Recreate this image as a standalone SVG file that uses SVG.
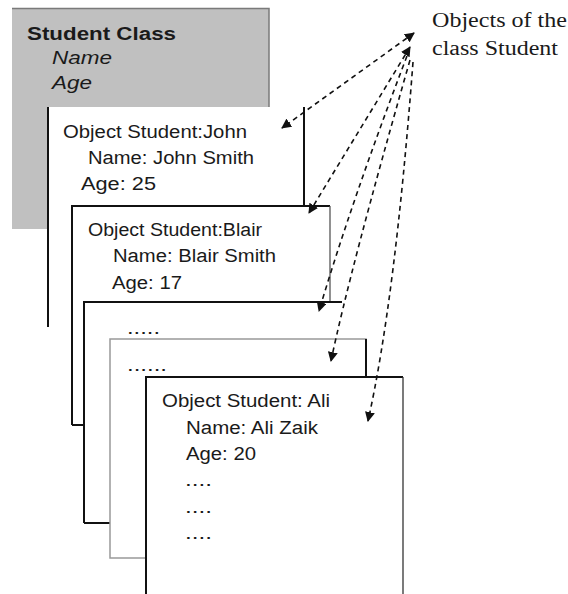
<svg xmlns="http://www.w3.org/2000/svg" width="568" height="594" viewBox="0 0 568 594">
<style>
.t{font-family:"Liberation Sans",Arial,sans-serif;font-size:18px;fill:#1a1a1a}
.b{font-weight:bold}
.i{font-style:italic}
.s{font-family:"Liberation Serif","Times New Roman",serif;font-size:20px;fill:#1a1a1a}
.e{stroke:#111;stroke-width:2;fill:none}
.g{stroke:#999;stroke-width:1.5;fill:none}
.c{stroke:#111;stroke-width:1.6;fill:none;stroke-dasharray:5 4}
</style>
<defs>
<marker id="ah" viewBox="0 0 10 10" refX="9" refY="5" markerWidth="10" markerHeight="10" markerUnits="userSpaceOnUse" orient="auto-start-reverse">
<path d="M0,0 L10,5 L0,10 z" fill="#111"/>
</marker>
</defs>
<rect width="568" height="594" fill="#fff"/>
<g id="student-class">
<rect x="12" y="8" width="257" height="221" fill="#c0c0c0"/>
<path d="M12,8.5 H269 V229" stroke="#7a7a7a" stroke-width="1.5" fill="none"/>
<text class="t b" x="27" y="40" font-size="20" textLength="149" lengthAdjust="spacingAndGlyphs">Student Class</text>
<text class="t i" x="52" y="64" textLength="60" lengthAdjust="spacingAndGlyphs">Name</text>
<text class="t i" x="52" y="89" textLength="40" lengthAdjust="spacingAndGlyphs">Age</text>
</g>
<g id="object-john">
<rect x="48" y="107" width="256" height="220" fill="#fff"/>
<path class="e" d="M48,107 V327"/>
<path class="e" d="M304,107 V206"/>
<text class="t" x="63" y="138" textLength="184" lengthAdjust="spacingAndGlyphs">Object Student:John</text>
<text class="t" x="88" y="164" textLength="166" lengthAdjust="spacingAndGlyphs">Name: John Smith</text>
<text class="t" x="81" y="190" textLength="75" lengthAdjust="spacingAndGlyphs">Age: 25</text>
</g>
<g id="object-blair">
<rect x="72" y="206" width="258" height="219" fill="#fff"/>
<path class="e" d="M72,425 V206 H330"/>
<path d="M330,206 V302" stroke="#555" stroke-width="1.3"/>
<path class="e" d="M72,425 H84"/>
<text class="t" x="88" y="236" textLength="174" lengthAdjust="spacingAndGlyphs">Object Student:Blair</text>
<text class="t" x="113" y="262" textLength="163" lengthAdjust="spacingAndGlyphs">Name: Blair Smith</text>
<text class="t" x="112" y="289" textLength="70" lengthAdjust="spacingAndGlyphs">Age: 17</text>
</g>
<g id="object-3">
<rect x="84" y="302" width="258" height="221" fill="#fff"/>
<path class="e" d="M84,523 V302 H342"/>
<path class="e" d="M84,523 H110"/>
<text class="t" x="127" y="334" textLength="33" lengthAdjust="spacingAndGlyphs">.....</text>
</g>
<g id="object-4">
<rect x="110" y="339" width="256" height="219" fill="#fff"/>
<rect class="g" x="110" y="339" width="256" height="219"/>
<path class="e" d="M366,339 V377"/>
<text class="t" x="127" y="371" textLength="40" lengthAdjust="spacingAndGlyphs">......</text>
</g>
<g id="object-ali">
<rect x="146" y="377" width="257" height="230" fill="#fff"/>
<path class="e" d="M146,600 V377 H403"/>
<path d="M403,377 V600" stroke="#333" stroke-width="1.3"/>
<text class="t" x="162" y="407" textLength="168" lengthAdjust="spacingAndGlyphs">Object Student: Ali</text>
<text class="t" x="186" y="434" textLength="132" lengthAdjust="spacingAndGlyphs">Name: Ali Zaik</text>
<text class="t" x="186" y="460" textLength="70" lengthAdjust="spacingAndGlyphs">Age: 20</text>
<text class="t" x="185" y="486" textLength="27" lengthAdjust="spacingAndGlyphs">....</text>
<text class="t" x="185" y="513" textLength="27" lengthAdjust="spacingAndGlyphs">....</text>
<text class="t" x="185" y="539" textLength="27" lengthAdjust="spacingAndGlyphs">....</text>
</g>
<g id="label">
<text class="s" x="432" y="27" textLength="135" lengthAdjust="spacingAndGlyphs">Objects of the</text>
<text class="s" x="432" y="55" textLength="126" lengthAdjust="spacingAndGlyphs">class Student</text>
</g>
<g id="connectors">
<path class="c" d="M414,33 L282,128" marker-start="url(#ah)" marker-end="url(#ah)"/>
<path class="c" d="M410,47 L309,213" marker-start="url(#ah)" marker-end="url(#ah)"/>
<path class="c" d="M407,56 Q352,200 319,311" marker-end="url(#ah)"/>
<path class="c" d="M410,60 Q350,270 331,361" marker-end="url(#ah)"/>
<path class="c" d="M413,62 Q395,300 368,421" marker-end="url(#ah)"/>
</g>
</svg>
